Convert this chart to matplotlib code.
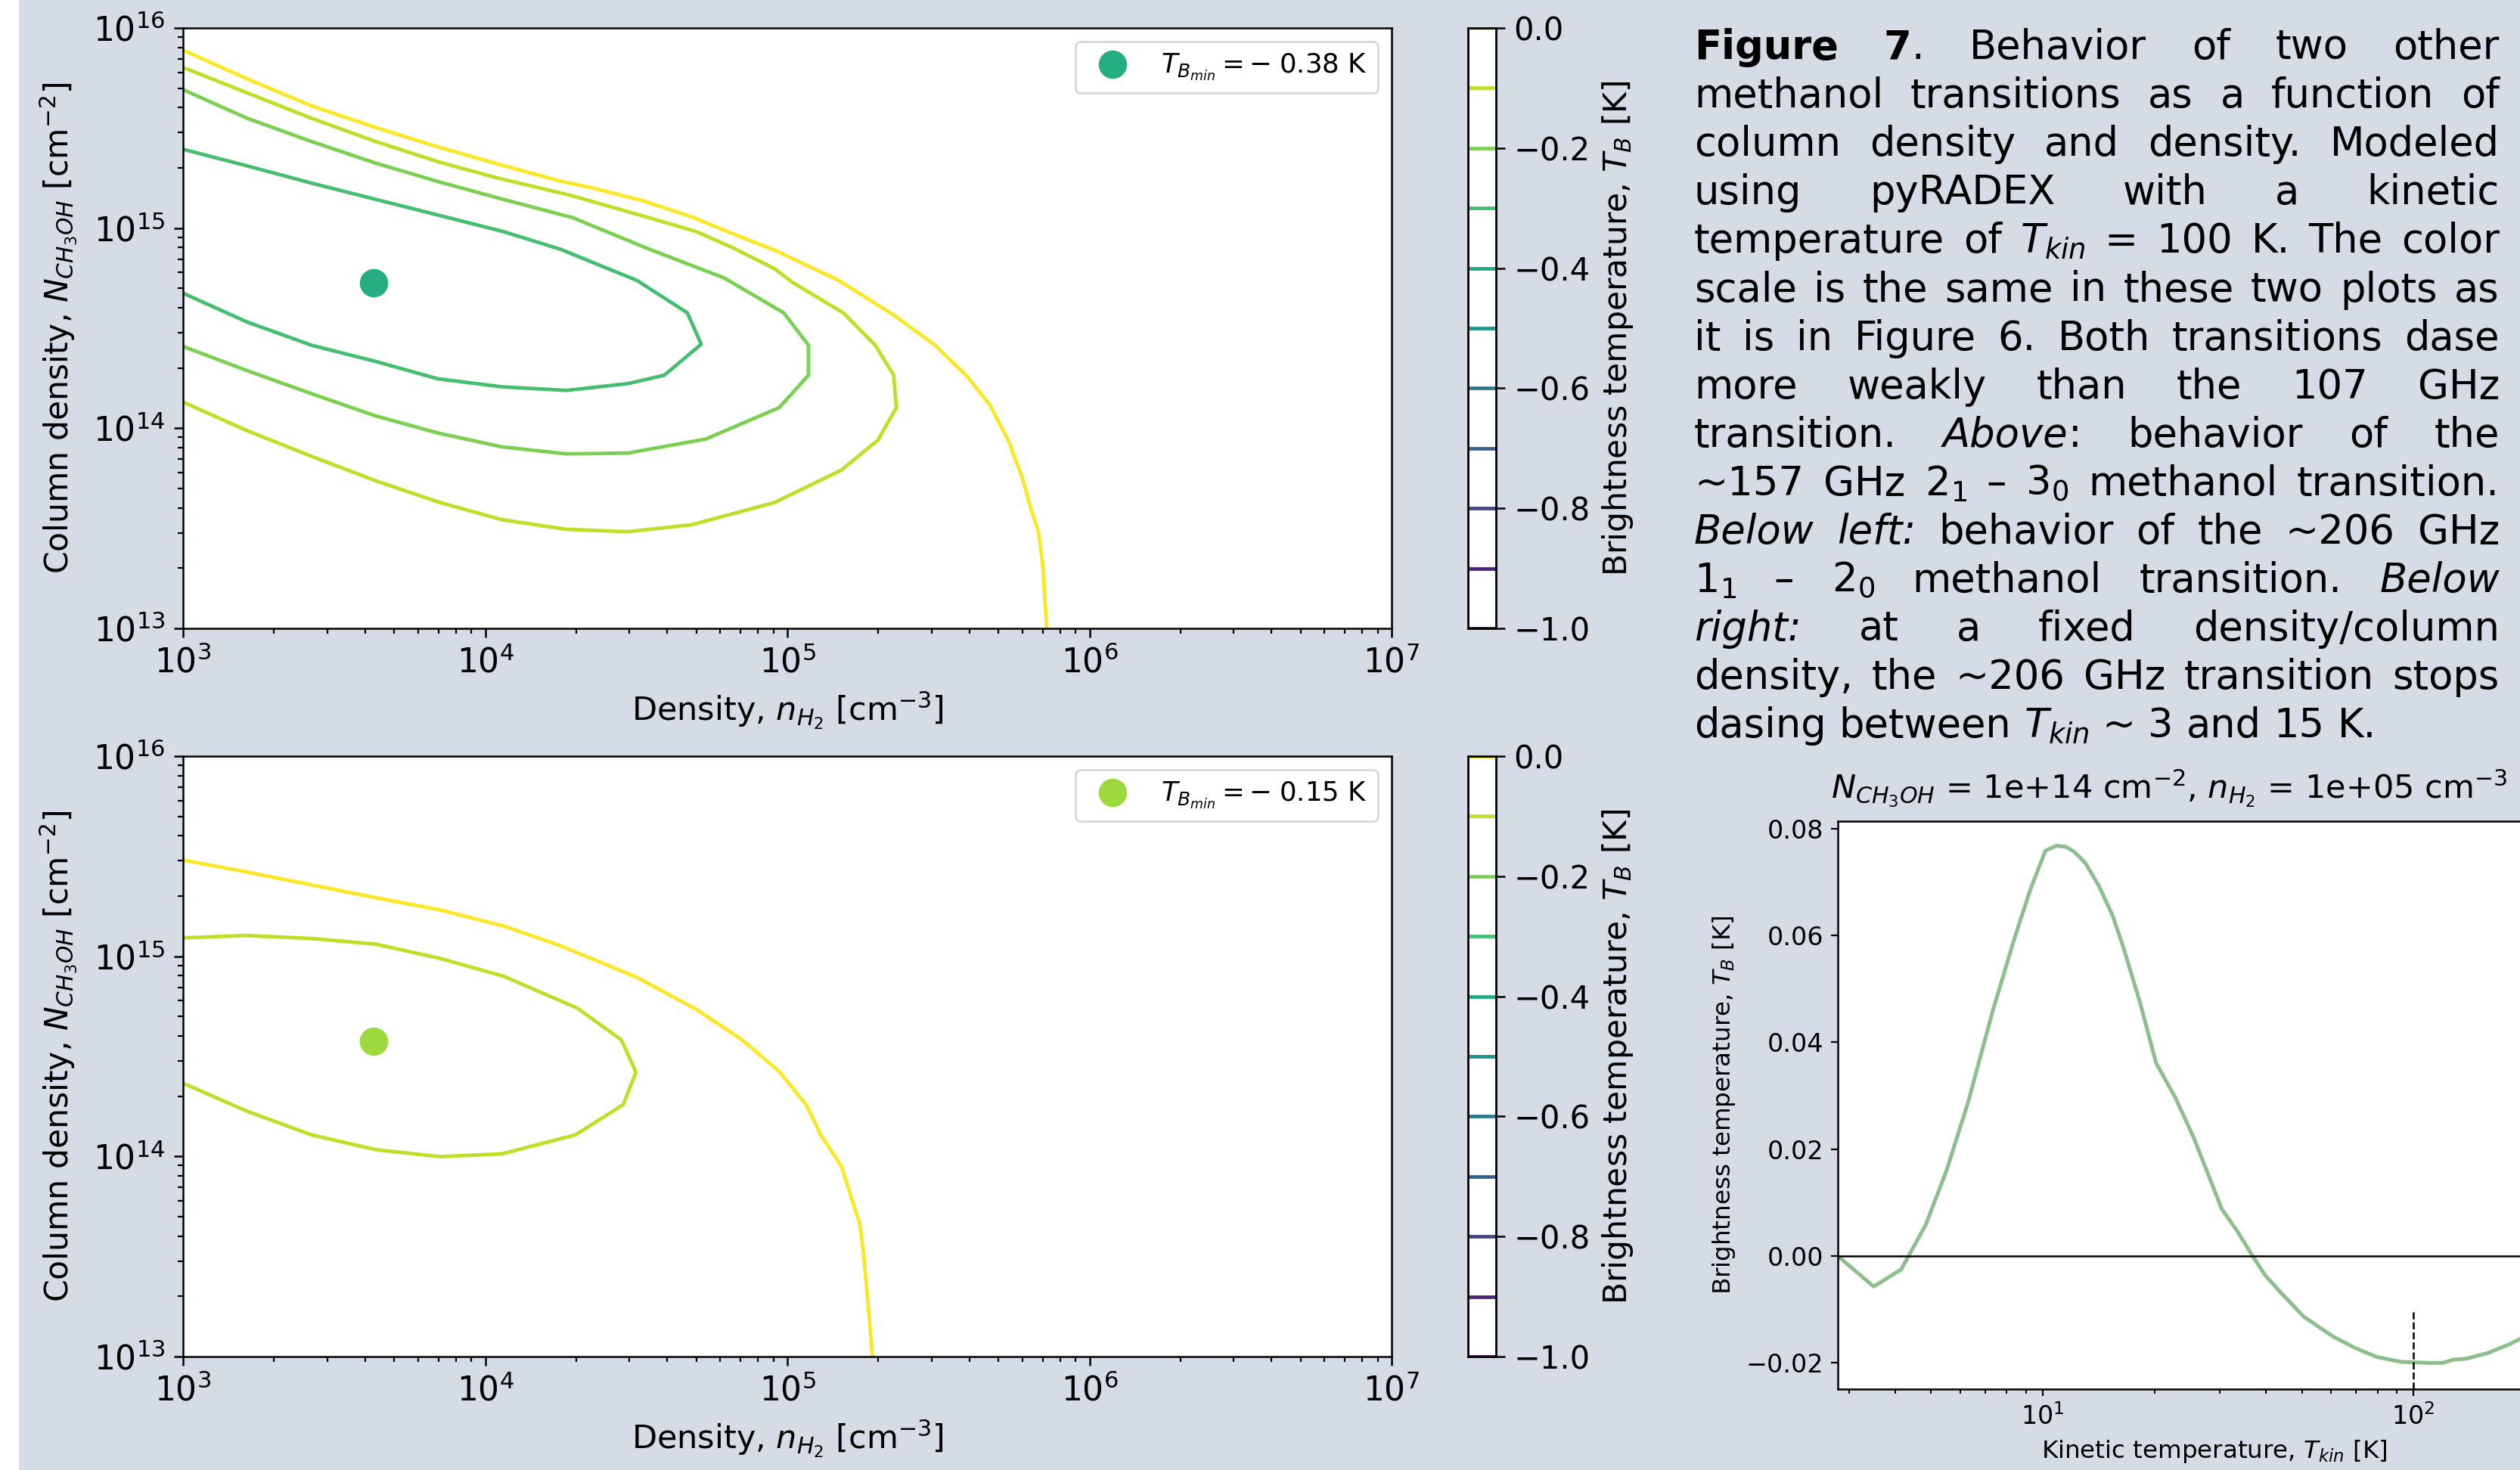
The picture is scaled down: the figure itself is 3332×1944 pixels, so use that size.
import re
import numpy as np
import matplotlib
matplotlib.use('Agg')
import matplotlib.pyplot as plt
from matplotlib.colors import Normalize
from matplotlib.patches import Rectangle

W, H, DPI = 3332, 1944, 200
BG = '#d5dce6'

top_l00_n = [3.000, 3.212, 3.425, 3.637, 3.850, 4.047, 4.244, 4.351, 4.517, 4.684, 4.821, 4.958,
             5.170, 5.352, 5.489, 5.595, 5.671, 5.731, 5.777, 5.807, 5.832, 5.847, 5.853, 5.859]
top_l00_N = [15.889, 15.746, 15.611, 15.503, 15.403, 15.318, 15.237, 15.202, 15.139, 15.056, 14.971, 14.890,
             14.739, 14.566, 14.415, 14.260, 14.115, 13.941, 13.756, 13.594, 13.479, 13.294, 13.132, 13.000]
top_l01_n = [3.000, 3.212, 3.425, 3.637, 3.850, 4.047, 4.275, 4.517, 4.700, 4.821, 4.958, 5.018, 5.185, 5.291,
             5.352, 5.361, 5.300, 5.179, 4.958, 4.684, 4.472, 4.269, 4.056, 3.850, 3.637, 3.425, 3.212, 3.000]
top_l01_N = [15.803, 15.676, 15.549, 15.433, 15.329, 15.248, 15.167, 15.063, 14.982, 14.901, 14.797, 14.728, 14.577, 14.415,
             14.265, 14.103, 13.941, 13.791, 13.629, 13.518, 13.483, 13.495, 13.543, 13.629, 13.738, 13.860, 13.988, 14.131]
top_l02_n = [3.000, 3.212, 3.425, 3.637, 3.850, 4.047, 4.290, 4.533, 4.791, 4.988, 5.070,
             5.070, 4.973, 4.730, 4.472, 4.269, 4.056, 3.844, 3.637, 3.425, 3.212, 3.000]
top_l02_N = [15.692, 15.549, 15.433, 15.325, 15.230, 15.149, 15.052, 14.901, 14.751, 14.577, 14.415,
             14.265, 14.103, 13.946, 13.876, 13.872, 13.907, 13.976, 14.062, 14.173, 14.288, 14.409]
top_l03_n = [3.000, 3.212, 3.425, 3.637, 3.850, 4.062, 4.250, 4.502, 4.669, 4.715,
             4.593, 4.472, 4.269, 4.056, 3.844, 3.637, 3.425, 3.212, 3.000]
top_l03_N = [15.394, 15.311, 15.225, 15.144, 15.063, 14.982, 14.894, 14.739, 14.577, 14.420,
             14.265, 14.223, 14.189, 14.207, 14.247, 14.334, 14.415, 14.531, 14.675]
top_min = 0.38
top_min_pos = (3.631, 14.728)

# ---- lower panel: ~206 GHz 1_1 - 2_0
bot_l00_n = [3.000, 3.212, 3.425, 3.637, 3.850, 4.062, 4.244, 4.502, 4.700, 4.851, 4.973, 5.064,
             5.109, 5.179, 5.215, 5.240, 5.252, 5.264, 5.273, 5.282]
bot_l00_N = [15.481, 15.421, 15.357, 15.293, 15.232, 15.151, 15.056, 14.895, 14.734, 14.582, 14.425, 14.255,
             14.112, 13.951, 13.780, 13.662, 13.520, 13.318, 13.164, 13.000]
bot_l01_n = [3.000, 3.206, 3.425, 3.637, 3.850, 4.062, 4.305, 4.451, 4.499,
             4.457, 4.299, 4.056, 3.850, 3.637, 3.425, 3.212, 3.000]
bot_l01_N = [15.092, 15.104, 15.089, 15.061, 14.990, 14.900, 14.741, 14.582, 14.421,
             14.259, 14.108, 14.013, 13.999, 14.034, 14.108, 14.226, 14.366]
bot_min = 0.15
bot_min_pos = (3.631, 14.575)

levels = [-1.0, -0.9, -0.8, -0.7, -0.6, -0.5, -0.4, -0.3, -0.2, -0.1, 0.0]
cbar_ticks = [-1.0, -0.8, -0.6, -0.4, -0.2, 0.0]

# ---- right panel: T_B vs T_kin at N = 1e14, n = 1e5
tkin = [2.8, 3.5, 4.15, 4.83, 5.5, 6.29, 7.33, 8.39, 9.29, 10.17, 10.88, 11.56, 12.16, 13.02,
        14.17, 15.42, 16.5, 18.27, 20.23, 22.77, 25.6, 30.4, 33.6, 36.6, 39.8, 44.1, 50.5,
        60.8, 69.6, 79.7, 92.8, 110, 119.6, 128, 139, 159.5, 183, 194]
tb = [0.0, -0.0057, -0.0025, 0.0058, 0.016, 0.0288, 0.0459, 0.0595, 0.0689, 0.0759, 0.0768, 0.0766,
      0.0757, 0.0736, 0.0693, 0.0638, 0.0578, 0.0476, 0.0361, 0.0297, 0.022, 0.0088, 0.0045, 0.0003,
      -0.0036, -0.007, -0.0113, -0.0151, -0.0172, -0.0189, -0.0198, -0.02, -0.02, -0.0194, -0.0192,
      -0.0181, -0.0164, -0.0155]

cap_lines = [
    "**Figure** **7**. Behavior of two other",
    "methanol transitions as a function of",
    "column density and density. Modeled",
    "using pyRADEX with a kinetic",
    "temperature of $T_{kin}$ = 100 K. The color",
    "scale is the same in these two plots as",
    "it is in Figure 6. Both transitions dase",
    "more weakly than the 107 GHz",
    "transition. *Above*: behavior of the",
    "~157 GHz 2$_1$ \u2013 3$_0$ methanol transition.",
    "*Below* *left:* behavior of the ~206 GHz",
    "1$_1$ \u2013 2$_0$ methanol transition. *Below*",
    "*right:* at a fixed density/column",
    "density, the ~206 GHz transition stops",
    "dasing between $T_{kin}$ ~ 3 and 15 K.",
]

cmap = plt.get_cmap('viridis')
norm = Normalize(-1.0, 0.0)

fig = plt.figure(figsize=(W / DPI, H / DPI), dpi=DPI, facecolor=BG)
fig.patches.append(Rectangle((0, 0), 25 / W, 1, transform=fig.transFigure,
                             facecolor='white', edgecolor='none', zorder=-5))


def box(l, t, r, b):
    return [l / W, 1 - b / H, (r - l) / W, (b - t) / H]


def contour_panel(rect, crect, curves, tbmin, pos):
    ax = fig.add_axes(rect)
    for lvl, cn, cN in curves:
        ax.plot(10 ** np.array(cn), 10 ** np.array(cN), color=cmap(norm(lvl)), lw=1.7)
    ax.plot([10 ** pos[0]], [10 ** pos[1]], 'o', ms=12.5, color=cmap(norm(-tbmin)),
            ls='none', label=r'$T_{B_{min}} = -\;%.2f$ K' % tbmin)
    ax.set_xscale('log')
    ax.set_yscale('log')
    ax.set_xlim(1e3, 1e7)
    ax.set_ylim(1e13, 1e16)
    ax.tick_params(which='major', length=4.4, width=0.9, labelsize=15.8, pad=4)
    ax.tick_params(which='minor', length=2.5, width=0.8)
    for s in ax.spines.values():
        s.set_linewidth(0.9)
    ax.set_xlabel(r'Density, $n_{H_2}$ [cm$^{-3}$]', fontsize=15.5, labelpad=5)
    ax.set_ylabel(r'Column density, $N_{CH_3OH}$ [cm$^{-2}$]', fontsize=15.3, labelpad=7)
    ax.legend(loc='upper right', fontsize=12.8)

    cax = fig.add_axes(crect)
    cax.set_facecolor('white')
    cax.hlines(levels, 0, 1, colors=[cmap(norm(v)) for v in levels], lw=1.7)
    cax.set_xlim(0, 1)
    cax.set_ylim(-1.0, 0.0)
    cax.set_xticks([])
    cax.yaxis.tick_right()
    cax.yaxis.set_label_position('right')
    cax.set_yticks(cbar_ticks)
    cax.tick_params(length=4.4, width=0.9, labelsize=15, pad=4)
    for s in cax.spines.values():
        s.set_linewidth(1.0)
    cax.set_ylabel(r'Brightness temperature, $T_B$ [K]', fontsize=15.3, labelpad=5)
    return ax


contour_panel(box(242, 37, 1840, 831), box(1941, 37, 1978, 831),
              [(0.0, top_l00_n, top_l00_N), (-0.1, top_l01_n, top_l01_N),
               (-0.2, top_l02_n, top_l02_N), (-0.3, top_l03_n, top_l03_N)],
              top_min, top_min_pos)
contour_panel(box(242, 1000, 1840, 1794), box(1941, 1000, 1978, 1794),
              [(0.0, bot_l00_n, bot_l00_N), (-0.1, bot_l01_n, bot_l01_N)],
              bot_min, bot_min_pos)

# right panel, partly cut by the page edge
ax3 = fig.add_axes(box(2430, 1086, 3425, 1837))
ax3.plot(tkin, tb, color='#8dbf8d', lw=1.8)
ax3.axhline(0, color='black', lw=0.9)
ax3.set_xscale('log')
ax3.set_xlim(2.8, 300)
ax3.set_ylim(-0.0249, 0.0814)
ax3.vlines(100, -0.0249, -0.0100, colors='black', linestyles='--', lw=0.9)
ax3.tick_params(which='major', length=3.3, width=0.8, labelsize=12)
ax3.tick_params(which='minor', length=2.2, width=0.7)
for s in ax3.spines.values():
    s.set_linewidth(0.9)
ax3.set_xlabel(r'Kinetic temperature, $T_{kin}$ [K]', fontsize=11.7)
ax3.set_ylabel(r'Brightness temperature, $T_B$ [K]', fontsize=11.7)
fig.text(2868 / W, 1 - 1042 / H,
         r'$N_{CH_3OH}$ = 1e+14 cm$^{-2}$, $n_{H_2}$ = 1e+05 cm$^{-3}$',
         fontsize=15.5, ha='center', va='center')

# justified caption
cap_left, cap_right = 2240, 3305
cap_base0, cap_step = 78, 64.1
cap_fs = 19
renderer = fig.canvas.get_renderer()
space_px = 0.318 * cap_fs * DPI / 72
for i, line in enumerate(cap_lines):
    y = 1 - (cap_base0 + i * cap_step) / H
    words = []
    for w in line.split(' '):
        segs = []
        for b, it, pl in re.findall(r'\*\*(.+?)\*\*|\*(.+?)\*|([^*]+)', w):
            if b:
                s, kw = b, dict(fontweight='bold')
            elif it:
                s, kw = it, dict(fontstyle='italic')
            else:
                s, kw = pl, {}
            t = fig.text(0, y, s, fontsize=cap_fs, va='baseline', ha='left', **kw)
            segs.append((t, t.get_window_extent(renderer).width))
        words.append(segs)
    widths = [sum(wd for _, wd in segs) for segs in words]
    if i < len(cap_lines) - 1:
        gap = max((cap_right - cap_left - sum(widths)) / (len(words) - 1), 0.7 * space_px)
    else:
        gap = space_px
    x = cap_left
    for segs in words:
        for t, wd in segs:
            t.set_x(x / W)
            x += wd
        x += gap

fig.savefig('out.png', dpi=DPI, facecolor=BG)
